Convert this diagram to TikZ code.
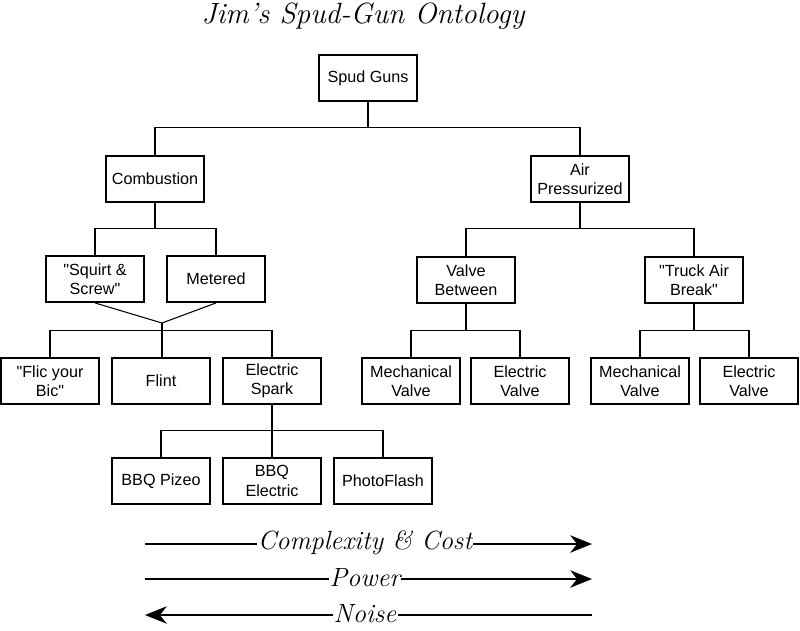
\documentclass[tikz,border=0pt]{standalone}
\usepackage{fontspec}
\usetikzlibrary{arrows.meta}
\newfontfamily\boxfont{Liberation Sans}
\newcommand{\handfont}{\rmfamily\itshape}

\tikzset{
  gunbox/.style={draw=black, line width=1.6pt, minimum width=2.94cm, minimum height=1.38cm,
    inner sep=0pt, align=center, font=\boxfont\fontsize{13.8}{16.4}\selectfont},
  branch/.style={draw=black, line width=0.9pt},
  scalearrow/.style={line width=1.7pt, -{Stealth[length=6.5mm,width=5.2mm,inset=2mm]}},
  scalelabel/.style={fill=white, inner sep=1pt, font=\handfont\fontsize{22.5}{26}\selectfont}
}

\begin{document}
\begin{tikzpicture}[x=0.03cm, y=-0.03cm]
	\useasboundingbox (0,0) rectangle (800,630);
	\node[font=\handfont\fontsize{25}{28}\selectfont] (title) at (363,16) {Jim's Spud-Gun Ontology};

	\node[gunbox] (spud) at (368,78) {Spud Guns};
	\node[gunbox] (comb) at (155,179) {Combustion};
	\node[gunbox] (air) at (580,179) {Air\\Pressurized};

	\node[gunbox] (squirt) at (95,279) {"Squirt \&\\Screw"};
	\node[gunbox] (meter) at (216,279) {Metered};
	\node[gunbox] (flic) at (50,381) {"Flic your\\Bic"};
	\node[gunbox] (flint) at (161,381) {Flint};
	\node[gunbox] (spark) at (272,381) {Electric\\Spark};
	\node[gunbox] (pizeo) at (161,481) {BBQ Pizeo};
	\node[gunbox] (bbqel) at (272,481) {BBQ\\Electric};
	\node[gunbox] (photo) at (383,481) {PhotoFlash};

	\node[gunbox] (valve) at (466,280) {Valve\\Between};
	\node[gunbox] (truck) at (694,280) {"Truck Air\\Break"};
	\node[gunbox] (mechA) at (411,381) {Mechanical\\Valve};
	\node[gunbox] (elecA) at (520,381) {Electric\\Valve};
	\node[gunbox] (mechB) at (640,381) {Mechanical\\Valve};
	\node[gunbox] (elecB) at (749,381) {Electric\\Valve};

	% tree lines
	\draw[branch] (spud.south) -- ++(0,26) -| (comb.north);
	\draw[branch] (spud.south) -- ++(0,26) -| (air.north);
	\draw[branch] (comb.south) -- ++(0,26) -| (squirt.north);
	\draw[branch] (comb.south) -- ++(0,26) -| (meter.north);
	\coordinate (fork) at (162,323);
	\draw[branch] (squirt.south) -- (fork) -- (meter.south);
	\draw[branch] (fork) -- (fork |- flint.north);
	\draw[branch] (flic.north) -- ++(0,-27) -| (spark.north);
	\draw[branch] (spark.south) -- ++(0,26) -| (pizeo.north);
	\draw[branch] (spark.south) -- ++(0,26) -| (photo.north);
	\draw[branch] (spark.south) -- (bbqel.north);
	\draw[branch] (air.south) -- ++(0,26) -| (valve.north);
	\draw[branch] (air.south) -- ++(0,26) -| (truck.north);
	\draw[branch] (valve.south) -- ++(0,27) -| (mechA.north);
	\draw[branch] (valve.south) -- ++(0,27) -| (elecA.north);
	\draw[branch] (truck.south) -- ++(0,27) -| (mechB.north);
	\draw[branch] (truck.south) -- ++(0,27) -| (elecB.north);

	% scales
	\coordinate (costL) at (145,544);
	\coordinate (costR) at (592,544);
	\coordinate (powerL) at (145,579);
	\coordinate (powerR) at (592,579);
	\coordinate (noiseL) at (145,615);
	\coordinate (noiseR) at (592,615);
	\draw[scalearrow] (costL) -- (costR);
	\draw[scalearrow] (powerL) -- (powerR);
	\draw[scalearrow] (noiseR) -- (noiseL);
	\node[scalelabel] (cost) at (365,543) {Complexity \& Cost};
	\node[scalelabel] (power) at (365,578) {Power};
	\node[scalelabel] (noise) at (365,614) {Noise};
\end{tikzpicture}
\end{document}
